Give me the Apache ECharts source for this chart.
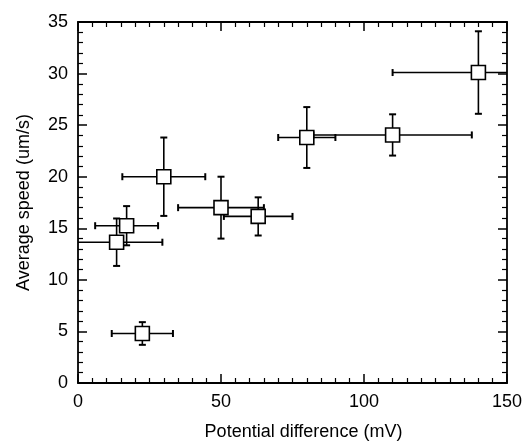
<!DOCTYPE html>
<html>
<head>
<meta charset="utf-8">
<script src="https://cdn.jsdelivr.net/npm/echarts@6/dist/echarts.min.js"></script>
<style>
  html, body { margin: 0; padding: 0; background: #fff; }
  #chart { width: 524px; height: 442px; }
</style>
</head>
<body>
<div id="chart"></div>
<script>
// values
var potential = [140, 110, 80, 50, 63, 30, 17, 13.5, 22.5];
var potentialErr = [30, 27.7, 10, 15, 12, 14.5, 11, 16, 10.7];
var speed = [30.1, 24.05, 23.8, 17, 16.15, 20, 15.25, 13.65, 4.8];
var speedErr = [4, 2, 2.95, 3, 1.85, 3.8, 1.9, 2.3, 1.1];

var FONT = "'Liberation Sans', Arial, Helvetica, sans-serif";

var points = potential.map(function (x, i) { return [x, speed[i]]; });
var errRows = potential.map(function (x, i) {
  return [x, speed[i], potentialErr[i], speedErr[i]];
});

function renderErrorBar(params, api) {
  var cs = params.coordSys;
  var x = api.value(0), y = api.value(1);
  var dx = api.value(2), dy = api.value(3);
  var c = api.coord([x, y]);
  var left = api.coord([x - dx, y])[0];
  var right = api.coord([x + dx, y])[0];
  var top = api.coord([x, y + dy])[1];
  var bottom = api.coord([x, y - dy])[1];
  var minX = cs.x, maxX = cs.x + cs.width;
  var minY = cs.y, maxY = cs.y + cs.height;
  var cap = 3.5;
  var style = { stroke: '#000', lineWidth: 1.6 };
  var capStyle = { stroke: '#000', lineWidth: 2 };
  var kids = [];
  kids.push({ type: 'line', shape: { x1: Math.max(left, minX), y1: c[1], x2: Math.min(right, maxX), y2: c[1] }, style: style });
  kids.push({ type: 'line', shape: { x1: c[0], y1: Math.max(top, minY), x2: c[0], y2: Math.min(bottom, maxY) }, style: style });
  if (left >= minX) kids.push({ type: 'line', shape: { x1: left, y1: c[1] - cap, x2: left, y2: c[1] + cap }, style: capStyle });
  if (right <= maxX) kids.push({ type: 'line', shape: { x1: right, y1: c[1] - cap, x2: right, y2: c[1] + cap }, style: capStyle });
  if (top >= minY) kids.push({ type: 'line', shape: { x1: c[0] - cap, y1: top, x2: c[0] + cap, y2: top }, style: capStyle });
  if (bottom <= maxY) kids.push({ type: 'line', shape: { x1: c[0] - cap, y1: bottom, x2: c[0] + cap, y2: bottom }, style: capStyle });
  return { type: 'group', children: kids };
}

function axisBase(min, max, interval, minorSplit) {
  return {
    type: 'value',
    min: min,
    max: max,
    interval: interval,
    axisLine: { show: true, onZero: false, lineStyle: { color: '#000', width: 1.8 } },
    axisTick: { show: true, inside: true, length: 9, lineStyle: { color: '#000', width: 1.5 } },
    minorTick: { show: true, splitNumber: minorSplit, length: 5, lineStyle: { color: '#000', width: 1.2 } },
    splitLine: { show: false },
    minorSplitLine: { show: false },
    axisLabel: { color: '#000', fontSize: 18, fontFamily: FONT, margin: 10 }
  };
}

var xBottom = axisBase(0, 150, 50, 10);
xBottom.position = 'bottom';
xBottom.name = 'Potential difference (mV)';
xBottom.nameLocation = 'middle';
xBottom.nameGap = 40;
xBottom.nameTextStyle = { color: '#000', fontSize: 18, fontFamily: FONT, padding: [0, 0, 0, 22] };

var xTop = axisBase(0, 150, 50, 10);
xTop.position = 'top';
xTop.axisLabel = { show: false };

var yLeft = axisBase(0, 35, 5, 5);
yLeft.position = 'left';
yLeft.name = 'Average speed (um/s)';
yLeft.nameLocation = 'middle';
yLeft.nameGap = 45;
yLeft.nameTextStyle = { color: '#000', fontSize: 18, fontFamily: FONT };

var yRight = axisBase(0, 35, 5, 5);
yRight.position = 'right';
yRight.axisLabel = { show: false };

var chart = echarts.init(document.getElementById('chart'), null, { renderer: 'canvas' });
chart.setOption({
  animation: false,
  backgroundColor: '#fff',
  grid: { left: 78, right: 17, top: 22, bottom: 59, containLabel: false, outerBoundsMode: 'none' },
  xAxis: [xBottom, xTop],
  yAxis: [yLeft, yRight],
  series: [
    {
      type: 'custom',
      xAxisIndex: 0,
      yAxisIndex: 0,
      renderItem: renderErrorBar,
      data: errRows,
      z: 2,
      silent: true
    },
    {
      type: 'scatter',
      xAxisIndex: 0,
      yAxisIndex: 0,
      data: points,
      symbol: 'rect',
      symbolSize: 14,
      itemStyle: { color: '#fff', borderColor: '#000', borderWidth: 1.6, opacity: 1 },
      emphasis: { disabled: true },
      z: 3,
      silent: true
    }
  ]
});
</script>
</body>
</html>
